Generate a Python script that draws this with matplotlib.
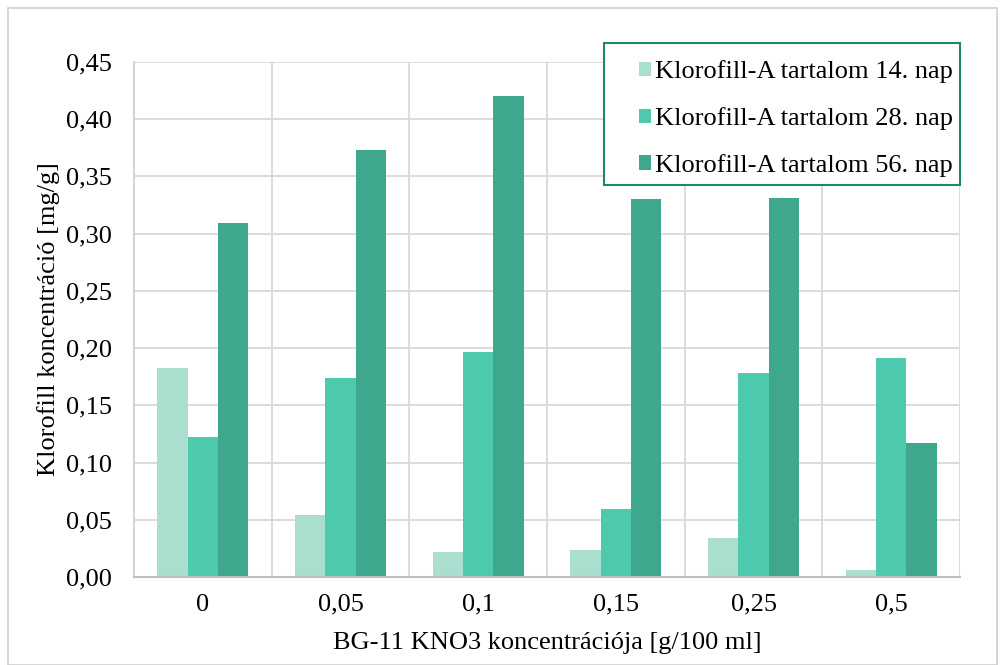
import matplotlib.pyplot as plt
import numpy as np
from matplotlib.patches import Rectangle

# data
categories = ['0', '0,05', '0,1', '0,15', '0,25', '0,5']
day14 = [0.183, 0.054, 0.022, 0.024, 0.034, 0.006]
day28 = [0.122, 0.174, 0.197, 0.059, 0.178, 0.191]
day56 = [0.309, 0.373, 0.420, 0.330, 0.331, 0.117]
labels = ['Klorofill-A tartalom 14. nap', 'Klorofill-A tartalom 28. nap',
          'Klorofill-A tartalom 56. nap']
colors = ['#aadfcf', '#4dcaad', '#3ea78e']
yticks = np.arange(0, 0.451, 0.05)

plt.rcParams['font.family'] = ['Liberation Serif', 'DejaVu Serif']
fs = 19

fig = plt.figure(figsize=(10.06, 6.65), dpi=100)
ax = fig.add_axes([134 / 1006, 1 - 577 / 665, 826 / 1006, 515 / 665])

# outer chart frame
fig.patches.append(Rectangle((8 / 1006, 0), 989 / 1006, 1 - 8 / 665,
                             transform=fig.transFigure, fill=False,
                             edgecolor='#d0d0d0', linewidth=1.2))

x = np.arange(len(categories))
w = 0.22
for i, vals in enumerate([day14, day28, day56]):
    ax.bar(x + (i - 1) * w, vals, w, color=colors[i], label=labels[i], zorder=3)

ax.set_xlim(-0.5, len(categories) - 0.5)
ax.set_ylim(0, 0.45)
ax.set_yticks(yticks)
ax.set_yticklabels([f'{v:.2f}'.replace('.', ',') for v in yticks])
ax.set_xticks(x)
ax.set_xticklabels(categories)

# grid lines: horizontal at ticks, vertical at category borders
for v in yticks[1:]:
    ax.axhline(v, color='#d9d9d9', linewidth=1.3, zorder=1)
for b in np.arange(0.5, len(categories), 1.0):
    ax.axvline(b, color='#d9d9d9', linewidth=1.3, zorder=1)

for s in ['top', 'right']:
    ax.spines[s].set_visible(False)
ax.spines['left'].set_color('#cfcfcf')
ax.spines['left'].set_linewidth(1.3)
ax.spines['bottom'].set_color('#bfbfbf')
ax.spines['bottom'].set_linewidth(1.5)
ax.spines['bottom'].set_zorder(4)

ax.tick_params(axis='both', length=0, labelsize=fs, colors='#000000')
ax.tick_params(axis='y', pad=16)
ax.tick_params(axis='x', pad=12)

ax.set_xlabel('BG-11 KNO3 koncentrációja [g/100 ml]', fontsize=fs, labelpad=12)
ax.set_ylabel('Klorofill koncentráció [mg/g]', fontsize=fs, labelpad=4)

# legend box drawn separately (fixed size like the original)
ax.add_patch(Rectangle((0.569, 0.761), 0.431, 0.2757, transform=ax.transAxes,
                       facecolor='white', edgecolor='#1e8a5e', linewidth=1.5,
                       clip_on=False, zorder=4))
leg = ax.legend(loc='upper left', bbox_to_anchor=(0.611, 1.003), fontsize=fs,
                frameon=False, handlelength=0.45, handleheight=0.45,
                handletextpad=0.15, labelspacing=0.9, borderpad=0,
                borderaxespad=0)
leg.set_zorder(5)

fig.savefig('out.png', dpi=100)
